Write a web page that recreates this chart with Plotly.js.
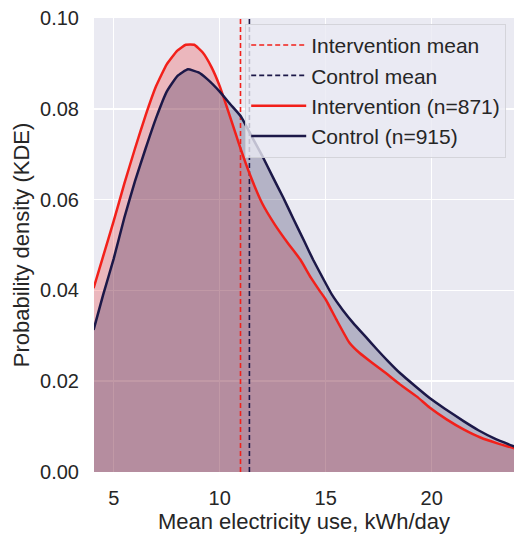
<!DOCTYPE html>
<html>
<head>
<meta charset="utf-8">
<script src="https://cdn.plot.ly/plotly-3.0.1.min.js"></script>
<style>html,body{margin:0;padding:0;background:#fff;}#chart{width:514px;height:536px;}</style>
</head>
<body>
<div id="chart"></div>
<script>
// Intervention KDE (kWh/day, density)
const interventionX = [4.05, 4.5, 5.0, 5.5, 6.0, 6.5, 7.0, 7.5, 8.0, 8.4, 8.8, 9.2, 9.6, 10.0, 10.4, 10.8, 11.0, 11.4, 12.0, 12.6, 13.2, 13.8, 14.3, 14.7, 15.0, 15.5, 16.1, 16.6, 17.2, 17.8, 18.5, 19.3, 19.9, 20.7, 21.5, 22.3, 23.1, 23.9];
const interventionY = [0.0405, 0.0475, 0.0553, 0.0635, 0.0712, 0.0785, 0.0850, 0.0898, 0.0928, 0.0941, 0.0941, 0.0924, 0.0893, 0.0850, 0.0795, 0.0738, 0.0710, 0.0658, 0.0592, 0.0545, 0.0505, 0.0468, 0.0428, 0.0400, 0.0380, 0.0336, 0.0286, 0.0262, 0.0240, 0.0219, 0.0193, 0.0166, 0.0142, 0.0116, 0.0094, 0.0076, 0.0063, 0.0052];
// Control KDE
const controlX = [4.05, 4.5, 5.0, 5.5, 6.0, 6.5, 7.0, 7.5, 8.0, 8.5, 9.0, 9.4, 10.0, 10.5, 11.0, 11.5, 12.0, 12.5, 13.0, 13.5, 14.0, 14.4, 14.9, 15.3, 15.8, 16.3, 16.9, 17.4, 17.9, 18.5, 19.2, 19.9, 20.6, 21.5, 22.2, 23.0, 23.9];
const controlY = [0.0313, 0.0390, 0.0470, 0.0560, 0.0640, 0.0712, 0.0780, 0.0838, 0.0872, 0.0887, 0.0880, 0.0866, 0.0838, 0.0810, 0.0783, 0.0740, 0.0697, 0.0650, 0.0604, 0.0555, 0.0507, 0.0468, 0.0424, 0.0390, 0.0357, 0.0328, 0.0297, 0.0271, 0.0246, 0.0218, 0.0190, 0.0163, 0.0140, 0.0112, 0.0092, 0.0073, 0.0056];
// Group means
const interventionMean = 10.98;
const controlMean = 11.40;
const seriesNames = ["Intervention mean", "Control mean", "Intervention (n=871)", "Control (n=915)"];
const xTicks = [5, 10, 15, 20];
const yTicks = [0, 0.02, 0.04, 0.06, 0.08, 0.10];
const yTickText = ["0.00", "0.02", "0.04", "0.06", "0.08", "0.10"];

const RED = "#f2201a";
const NAVY = "#1c1848";
const txt = "#262626";
const sp = {shape: "spline", smoothing: 0.4};

const traces = [
  // fills
  {x: interventionX, y: interventionY, type: "scatter", mode: "none", fill: "tozeroy",
   fillcolor: "rgba(240,20,20,0.24)", showlegend: false, line: sp},
  {x: controlX, y: controlY, type: "scatter", mode: "none", fill: "tozeroy",
   fillcolor: "rgba(26,22,72,0.26)", showlegend: false, line: sp},
  // mean lines
  {x: [interventionMean, interventionMean], y: [0, 0.1], type: "scatter", mode: "lines",
   line: {color: RED, width: 1.6, dash: "5px,3px"}, name: seriesNames[0], legendrank: 1},
  {x: [controlMean, controlMean], y: [0, 0.1], type: "scatter", mode: "lines",
   line: {color: NAVY, width: 1.6, dash: "5px,3px"}, name: seriesNames[1], legendrank: 2},
  // KDE lines
  {x: interventionX, y: interventionY, type: "scatter", mode: "lines",
   line: Object.assign({color: RED, width: 2.5}, sp), name: seriesNames[2], legendrank: 3},
  {x: controlX, y: controlY, type: "scatter", mode: "lines",
   line: Object.assign({color: NAVY, width: 2.5}, sp), name: seriesNames[3], legendrank: 4}
];

const layout = {
  width: 514, height: 536,
  margin: {l: 94, r: 0, t: 18, b: 64},
  paper_bgcolor: "#ffffff",
  plot_bgcolor: "#eaeaf2",
  font: {family: "Liberation Sans, Arial, sans-serif", size: 20, color: txt},
  showlegend: true,
  legend: {
    x: 0.36, y: 0.987, xanchor: "left", yanchor: "top",
    bgcolor: "rgba(234,234,242,0.8)", bordercolor: "rgba(210,210,215,0.9)", borderwidth: 1,
    font: {size: 21, color: txt}, traceorder: "normal", itemwidth: 55, tracegroupgap: 0
  },
  xaxis: {
    range: [4.07, 23.88], tickvals: xTicks, ticktext: xTicks.map(String),
    showgrid: true, gridcolor: "#ffffff", gridwidth: 1.5, zeroline: false,
    showline: false, ticks: "", ticklabelstandoff: 12,
    title: {text: "Mean electricity use, kWh/day", font: {size: 22, color: txt}, standoff: 4}
  },
  yaxis: {
    range: [0, 0.1], tickvals: yTicks, ticktext: yTickText,
    showgrid: true, gridcolor: "#ffffff", gridwidth: 1.5, zeroline: false,
    showline: false, ticks: "", ticklabelstandoff: 14,
    title: {text: "Probability density (KDE)", font: {size: 22, color: txt}, standoff: 4}
  }
};

Plotly.newPlot("chart", traces, layout, {displayModeBar: false, staticPlot: true});
</script>
</body>
</html>
